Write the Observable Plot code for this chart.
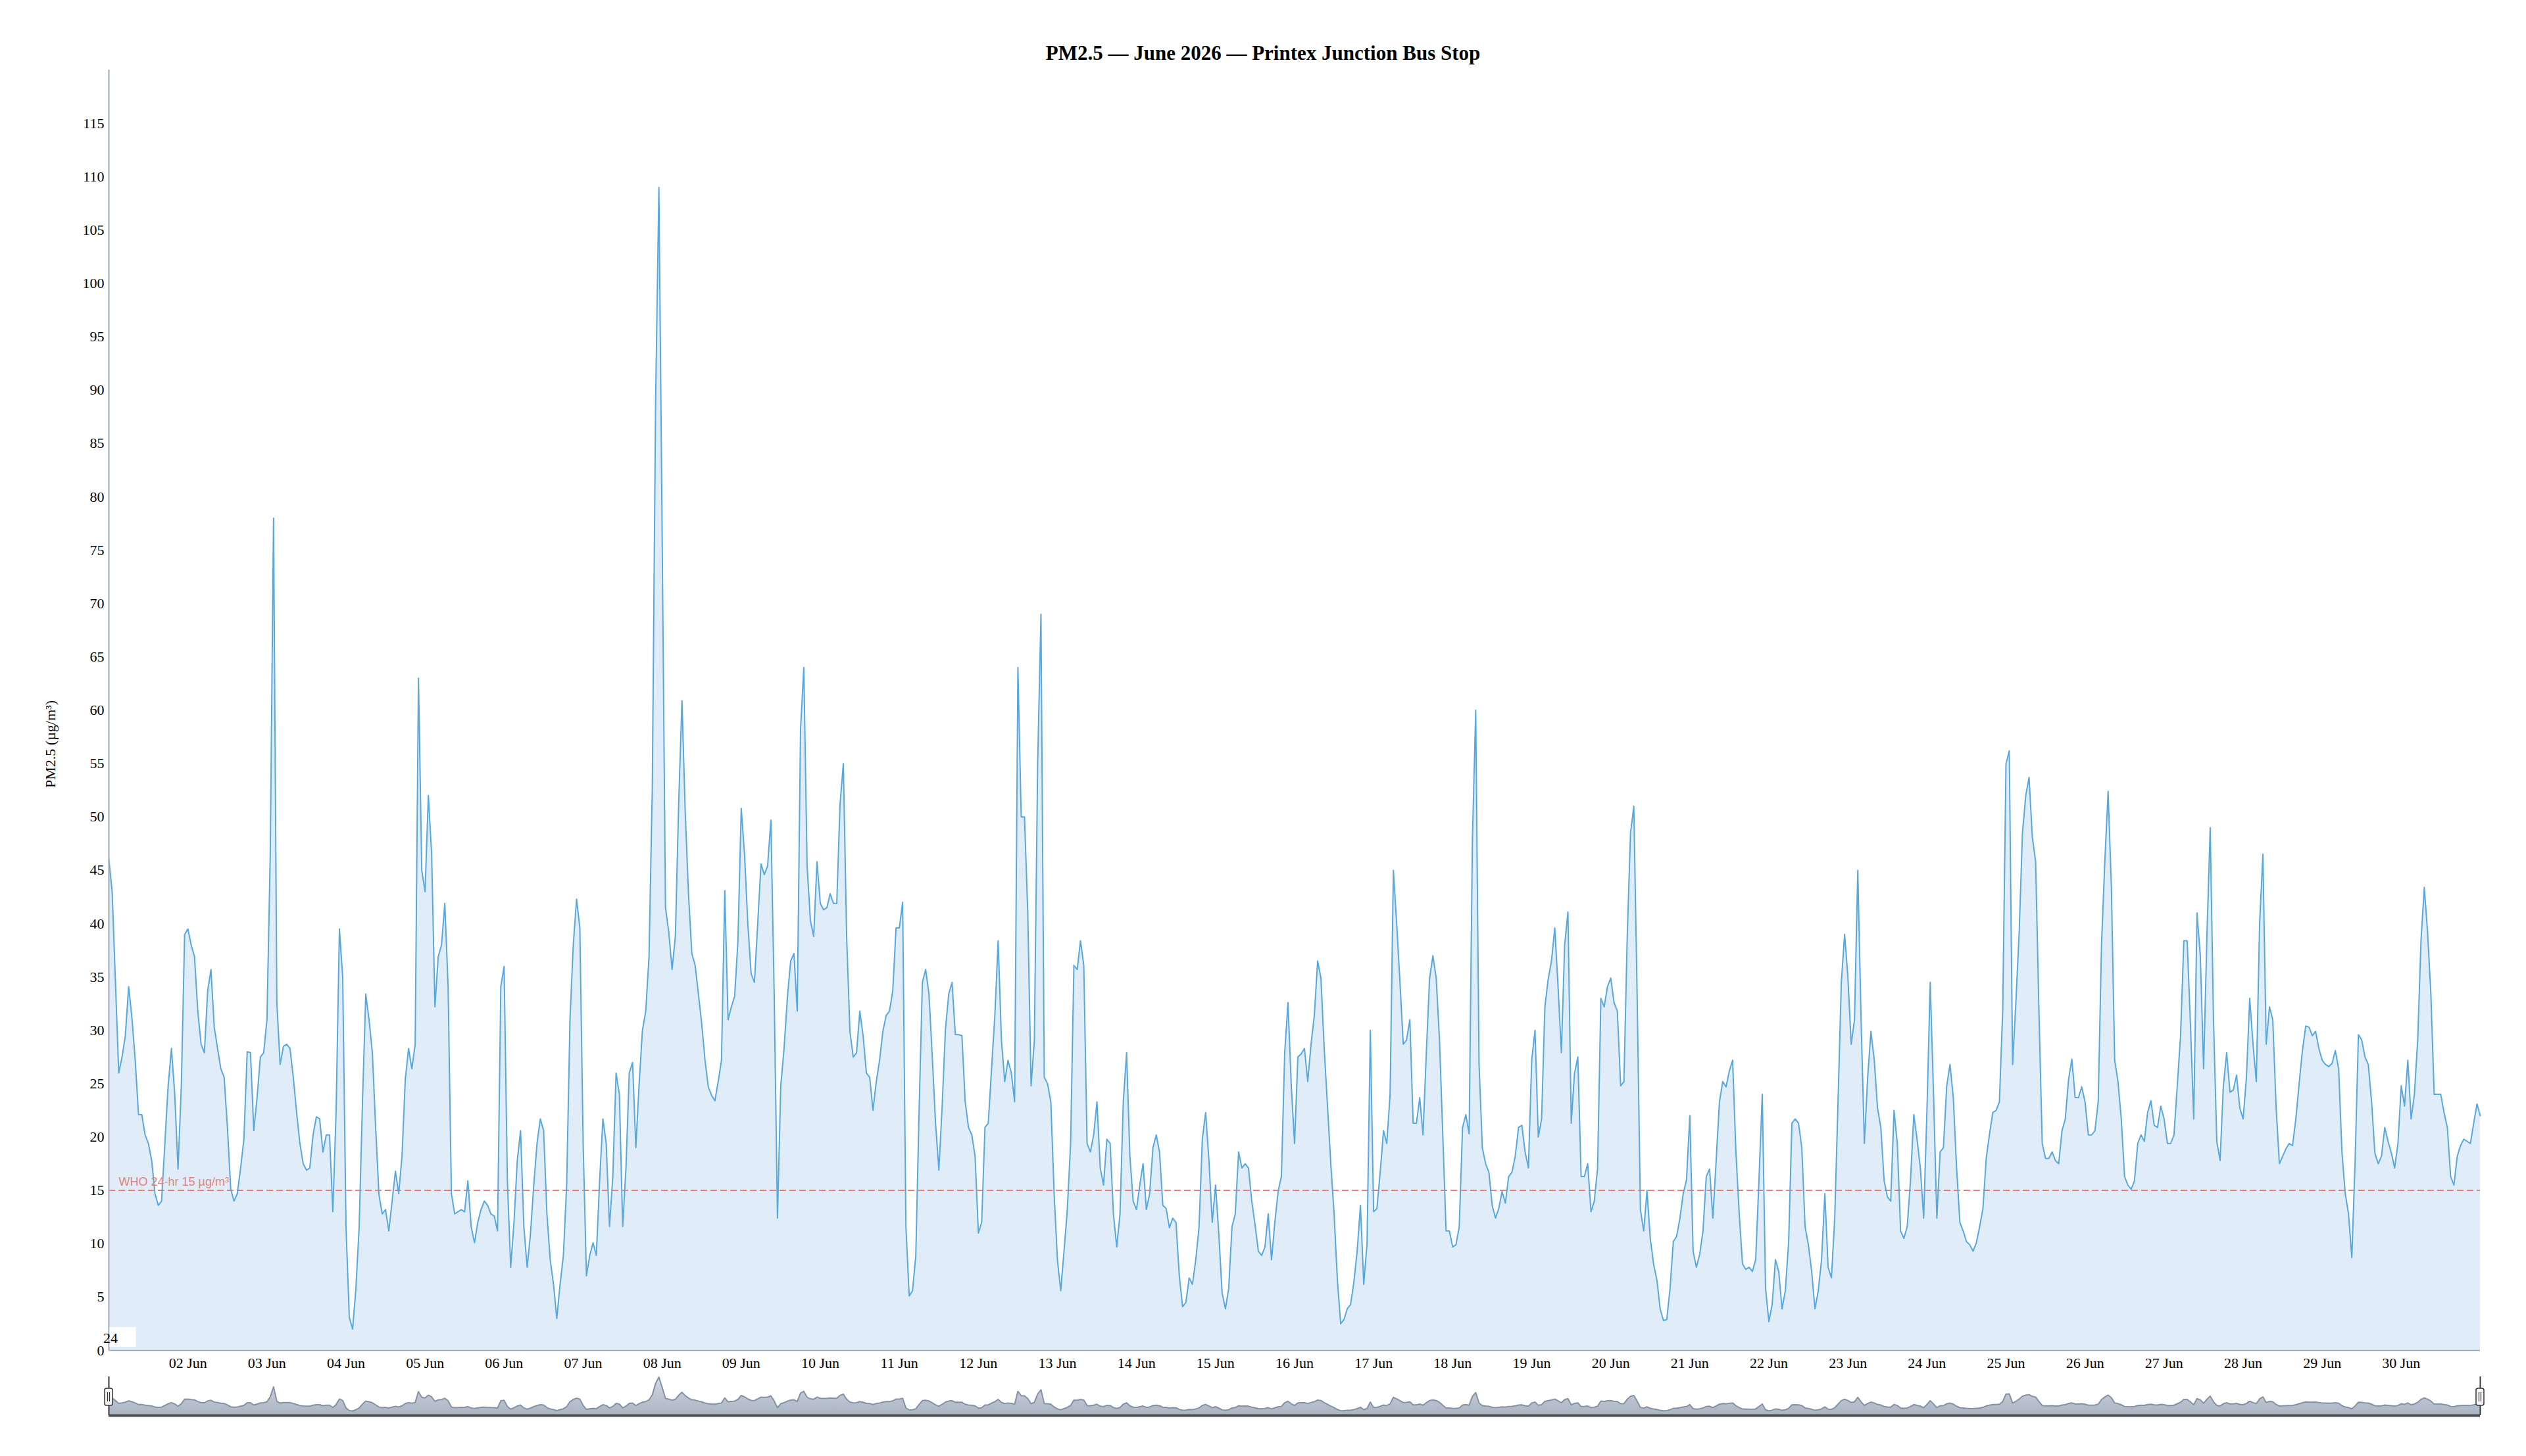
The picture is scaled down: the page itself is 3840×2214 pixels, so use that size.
<!DOCTYPE html>
<html><head><meta charset="utf-8">
<script src="https://cdn.jsdelivr.net/npm/d3@7"></script>
<script src="https://cdn.jsdelivr.net/npm/@observablehq/plot@0.6"></script>
<style>
html,body{margin:0;padding:0;background:#fff;}
#wrap{position:relative;width:3840px;height:2214px;overflow:hidden;font-family:'Liberation Serif','Times New Roman',serif;}
#title{position:absolute;left:0;width:3840px;top:61px;text-align:center;font-weight:bold;font-size:31px;line-height:40px;color:#000;}
#main{position:absolute;left:0;top:0;}
#nav{position:absolute;left:0;top:2085px;}
</style></head><body>
<div id="wrap"><div id="main"></div><div id="nav"></div><div id="title">PM2.5 — June 2026 — Printex Junction Bus Stop</div></div>
<script>
// Hourly PM2.5 (µg/m³), 00:00 … 23:00 each day of June 2026
const jun01 = [46, 43, 34.5, 26, 27.5, 29.5, 34.1, 31.2, 27.2, 22.1, 22.1, 20.2, 19.4, 17.8, 14.7, 13.6, 14, 19.4, 24.8, 28.3, 24, 17, 24.8, 39];
const jun02 = [39.5, 38, 36.9, 31.8, 28.7, 27.9, 33.7, 35.7, 30.3, 28.3, 26.4, 25.6, 20.9, 15.1, 14, 14.7, 17.1, 19.8, 28, 27.9, 20.6, 23.7, 27.5, 27.9];
const jun03 = [31, 46.5, 78, 32.6, 26.8, 28.5, 28.7, 28.3, 25.6, 22.3, 19.4, 17.5, 16.9, 17.1, 20.2, 21.9, 21.7, 18.6, 20.2, 20.2, 13, 22.5, 39.5, 35];
const jun04 = [11.6, 3.1, 2, 5.8, 11.6, 23.3, 33.4, 31, 27.9, 20.9, 14.6, 12.8, 13.2, 11.2, 14, 16.8, 14.7, 18.2, 25.4, 28.3, 26.4, 28.7, 63, 45];
const jun05 = [43, 52, 46.5, 32.2, 36.9, 38, 41.9, 34.1, 14.7, 12.8, 13, 13.2, 13, 15.9, 11.6, 10.1, 12, 13.2, 14, 13.6, 12.8, 12.6, 11.2, 34.1];
const jun06 = [36, 15.9, 7.8, 12, 17.8, 20.6, 11.6, 7.8, 10.9, 15.5, 19.4, 21.7, 20.6, 12.8, 8.5, 6.2, 3, 6.2, 8.9, 15.5, 31, 38, 42.3, 39.6];
const jun07 = [19.4, 7, 8.9, 10.1, 8.9, 15.9, 21.7, 19.4, 11.6, 16.3, 26, 24, 11.6, 17.1, 26, 27, 19, 25, 30, 31.8, 36.9, 52.8, 89, 109];
const jun08 = [76, 41.5, 39.2, 35.7, 38.8, 51.2, 60.9, 50.4, 42.7, 37.2, 36.1, 33.4, 30.6, 27.2, 24.7, 23.9, 23.4, 25.2, 27.2, 43.1, 31, 32.2, 33.2, 38.4];
const jun09 = [50.8, 46.5, 40, 35.3, 34.5, 40, 45.6, 44.6, 45.4, 49.7, 33.4, 12.4, 24.8, 28.3, 33, 36.5, 37.2, 31.8, 58.2, 64, 45.4, 40.3, 38.8, 45.8];
const jun10 = [41.9, 41.3, 41.5, 42.8, 41.9, 41.9, 51.2, 55, 38.8, 29.9, 27.5, 27.9, 31.8, 29.5, 26, 25.6, 22.5, 25.2, 27.2, 29.9, 31.4, 31.8, 33.7, 39.6];
const jun11 = [39.6, 42, 11.6, 5.1, 5.6, 8.9, 22.5, 34.5, 35.7, 33.4, 27.5, 21.3, 16.9, 22.9, 30.1, 33.4, 34.5, 29.6, 29.6, 29.5, 23.3, 20.9, 20.2, 18.2];
const jun12 = [11, 12, 20.9, 21.3, 26.4, 31.4, 38.4, 29.1, 25.2, 27.2, 26, 23.3, 64, 50, 50, 41, 24.8, 29.1, 55, 69, 25.6, 25, 23.3, 14.7];
const jun13 = [8.5, 5.6, 9.3, 13.2, 19.4, 36.1, 35.7, 38.4, 36.1, 19.4, 18.6, 20.2, 23.3, 17.1, 15.5, 19.8, 19.4, 12.8, 9.7, 12.8, 23.3, 27.9, 18.2, 14];
const jun14 = [13.2, 15.5, 17.5, 13.2, 14.7, 19, 20.2, 18.6, 13.6, 13.3, 11.5, 12.4, 12, 7, 4.1, 4.5, 6.8, 6.2, 8.5, 11.6, 19.8, 22.3, 17.8, 12];
const jun15 = [15.5, 10.9, 5.4, 3.9, 5.8, 11.6, 12.8, 18.6, 17.1, 17.5, 17.1, 14, 11.8, 9.3, 8.9, 9.7, 12.8, 8.5, 12, 14.9, 16.3, 27.9, 32.6, 24.8];
const jun16 = [19.4, 27.5, 27.8, 28.3, 25.2, 28.7, 31.4, 36.5, 34.9, 28.3, 22.9, 17.5, 12.8, 6.6, 2.5, 2.9, 3.9, 4.3, 6.4, 9.3, 13.6, 6.2, 10, 30];
const jun17 = [13, 13.3, 16.7, 20.6, 19.4, 24, 45, 40, 34.5, 28.7, 29.1, 31, 21.3, 21.3, 23.7, 20.2, 27.9, 34.9, 37, 34.9, 29.1, 20.2, 11.2, 11.2];
const jun18 = [9.7, 9.9, 11.6, 20.9, 22.1, 20.3, 48, 60, 27, 19, 17.5, 16.7, 13.6, 12.4, 13.3, 14.9, 13.8, 16.3, 16.7, 18.2, 20.9, 21.1, 18.6, 17.1];
const jun19 = [27.2, 30, 20, 21.7, 32.2, 34.8, 36.5, 39.6, 34.1, 27.9, 38, 41.1, 21.3, 26, 27.5, 16.3, 16.3, 17.5, 13, 14, 17.1, 33, 32.2, 34.1];
const jun20 = [34.9, 32.6, 31.8, 24.8, 25.2, 38.8, 48.5, 51, 33.4, 13.2, 11.2, 15, 10.5, 8.1, 6.6, 3.9, 2.8, 2.9, 5.8, 10.2, 10.7, 12.4, 14.7, 16];
const jun21 = [22, 9.3, 7.8, 9, 11.2, 16.3, 17, 12.4, 17.8, 23.3, 25.2, 24.7, 26.2, 27.2, 18.6, 12.8, 8.1, 7.6, 7.8, 7.4, 8.5, 16, 24, 5.8];
const jun22 = [2.7, 4.3, 8.5, 7.4, 3.9, 5.6, 10.1, 21.3, 21.7, 21.3, 19, 11.6, 9.9, 7.4, 3.9, 5.6, 8.5, 14.7, 7.8, 6.8, 12.4, 23.3, 34.5, 39];
const jun23 = [35, 28.7, 31, 45, 31, 19.4, 25.6, 29.9, 27.2, 22.7, 20.9, 15.9, 14.4, 14, 22.5, 19.4, 11.2, 10.5, 11.6, 15.9, 22.1, 19.8, 17.1, 12.4];
const jun24 = [22.5, 34.5, 24, 12.4, 18.6, 19, 24.8, 26.8, 23.7, 17.1, 12, 11.2, 10.2, 9.9, 9.3, 10.1, 11.6, 13.3, 18, 20.3, 22.3, 22.5, 23.3, 31.8];
const jun25 = [55, 56.2, 26.8, 32.6, 39.2, 48.5, 52, 53.7, 48.1, 45.8, 31.8, 19.4, 18, 18, 18.6, 17.8, 17.5, 20.6, 21.7, 25.4, 27.3, 23.7, 23.7, 24.7];
const jun26 = [23.3, 20.2, 20.2, 20.6, 23.3, 38, 45.8, 52.4, 43.4, 27.2, 25.2, 21.7, 16.3, 15.5, 15.1, 15.9, 19.4, 20.2, 19.6, 22.3, 23.4, 21.1, 20.9, 22.9];
const jun27 = [21.7, 19.4, 19.4, 20.2, 24.8, 29.5, 38.4, 38.4, 30.6, 21.7, 41, 37, 26.4, 38.8, 49, 31, 19.6, 17.8, 24.8, 27.9, 24.2, 24.4, 25.8, 22.7];
const jun28 = [21.7, 25.6, 33, 28.7, 25.2, 40, 46.5, 28.7, 32.2, 31, 22.9, 17.5, 18.2, 18.9, 19.4, 19.2, 21.7, 25, 28.1, 30.4, 30.3, 29.5, 29.9, 28.3];
const jun29 = [27.2, 26.8, 26.6, 26.9, 28.1, 26.4, 18.6, 14.7, 12.8, 8.7, 17.8, 29.6, 29.1, 27.5, 26.8, 23.3, 18.5, 17.5, 18.2, 20.9, 19.6, 18.5, 17.1, 19.4];
const jun30 = [24.8, 22.9, 27.2, 21.7, 24, 29.1, 38.4, 43.4, 39.2, 33.4, 24, 24, 24, 22.3, 20.9, 16.3, 15.5, 18.2, 19.2, 19.8, 19.6, 19.4, 21.3, 23.1];
const jul01 = [22];

const whoLimit = 15;
const whoLabel = "WHO 24-hr 15 µg/m³";
const yTicks = d3.range(0, 116, 5);
const yLabel = "PM2.5 (µg/m³)";
const cornerLabel = "24";
const navDomain = [-12.5, 110];

const days = [jun01, jun02, jun03, jun04, jun05, jun06, jun07, jun08, jun09, jun10,
  jun11, jun12, jun13, jun14, jun15, jun16, jun17, jun18, jun19, jun20,
  jun21, jun22, jun23, jun24, jun25, jun26, jun27, jun28, jun29, jun30];

const readings = days.flatMap((arr, d) => arr.map((v, h) => ({time: new Date(Date.UTC(2026, 5, 1 + d, h)), pm25: v})))
  .concat(jul01.map(v => ({time: new Date(Date.UTC(2026, 6, 1, 0)), pm25: v})));

const start = readings[0].time;
const end = readings[readings.length - 1].time;
const dayTicks = d3.utcDay.range(new Date(Date.UTC(2026, 5, 2)), new Date(Date.UTC(2026, 5, 30, 12)));

const serif = "'Liberation Serif','Times New Roman',serif";

const main = Plot.plot({
  width: 3840, height: 2093,
  marginTop: 106, marginBottom: 40, marginLeft: 165, marginRight: 70,
  style: {fontFamily: serif, fontSize: "22px", background: "transparent", color: "#000", overflow: "visible"},
  x: {type: "utc", domain: [start, end], ticks: dayTicks, tickFormat: d3.utcFormat("%d Jun"), tickSize: 0, tickPadding: 11, label: null},
  y: {domain: [0, 120], ticks: yTicks, tickSize: 0, tickPadding: 7, label: null},
  marks: [
    Plot.areaY(readings, {x: "time", y: "pm25", fill: "#e0edf9"}),
    Plot.ruleY([whoLimit], {stroke: "#e3786c", strokeWidth: 1.6, strokeDasharray: "10,5"}),
    Plot.lineY(readings, {x: "time", y: "pm25", stroke: "#58a8e0", strokeWidth: 2}),
    Plot.text([{t: start, v: whoLimit, label: whoLabel}], {x: "t", y: "v", text: "label", textAnchor: "start", dx: 15, dy: -13, fill: "#e0857a", fontSize: 18, fontFamily: "'Liberation Sans',Arial,sans-serif"}),
    Plot.ruleX([start], {stroke: "#a0a9b6", strokeWidth: 2}),
    Plot.ruleY([0], {stroke: "#a0a9b6", strokeWidth: 1.6})
  ]
});
document.getElementById("main").appendChild(main);

function scaleApply(plot, name, v) {
  const s = plot.scale(name);
  if (s && typeof s.apply === "function") return s.apply(v);
  const d = s.domain, r = s.range;
  const t = (+v - +d[0]) / (+d[1] - +d[0]);
  return r[0] + t * (r[1] - r[0]);
}

// y-axis title and corner label
const msvg = d3.select(main);
const x0 = scaleApply(main, "x", start);
const yZero = scaleApply(main, "y", 0);
const yMid = (scaleApply(main, "y", 120) + yZero) / 2;
msvg.append("text").attr("transform", `translate(84,${yMid + 52}) rotate(-90)`)
  .attr("text-anchor", "middle").attr("font-family", serif).attr("font-size", 22).attr("fill", "#000").text(yLabel);
msvg.append("rect").attr("x", x0 + 1.5).attr("y", yZero - 35).attr("width", 40).attr("height", 30).attr("fill", "#fff");
msvg.append("text").attr("x", x0 + 3).attr("y", yZero - 11).attr("font-family", serif).attr("font-size", 22).attr("fill", "#000").text(cornerLabel);

// navigator
const nav = Plot.plot({
  width: 3840, height: 75,
  marginTop: 8, marginBottom: 8, marginLeft: 165, marginRight: 70,
  style: {background: "transparent", overflow: "visible"},
  x: {type: "utc", domain: [start, end], axis: null},
  y: {domain: navDomain, axis: null},
  marks: [
    Plot.areaY(readings, {x: "time", y1: navDomain[0], y2: "pm25", fill: "url(#navFill)"}),
    Plot.lineY(readings, {x: "time", y: "pm25", stroke: "#8592a4", strokeWidth: 2}),
    Plot.ruleY([navDomain[0]], {stroke: "#4d4d4d", strokeWidth: 4}),
    Plot.ruleX([start, end], {stroke: "#3a3a3a", strokeWidth: 2})
  ]
});
document.getElementById("nav").appendChild(nav);
const nsvg = d3.select(nav);
const grad = nsvg.insert("defs", ":first-child").append("linearGradient").attr("id", "navFill")
  .attr("x1", 0).attr("y1", 0).attr("x2", 0).attr("y2", 1);
grad.append("stop").attr("offset", "0%").attr("stop-color", "#d3d9e2");
grad.append("stop").attr("offset", "100%").attr("stop-color", "#a9b3c2");
const handleY = 26;
[start, end].forEach(t => {
  const hx = scaleApply(nav, "x", t);
  const g = nsvg.append("g").attr("transform", `translate(${hx},${handleY})`);
  g.append("rect").attr("x", -6).attr("y", 0).attr("width", 12).attr("height", 26).attr("rx", 3)
    .attr("fill", "#f3f3f3").attr("stroke", "#333").attr("stroke-width", 1.5);
  g.append("line").attr("x1", -1.5).attr("x2", -1.5).attr("y1", 6).attr("y2", 20).attr("stroke", "#333").attr("stroke-width", 1.2);
  g.append("line").attr("x1", 1.5).attr("x2", 1.5).attr("y1", 6).attr("y2", 20).attr("stroke", "#333").attr("stroke-width", 1.2);
});
</script>
</body></html>
